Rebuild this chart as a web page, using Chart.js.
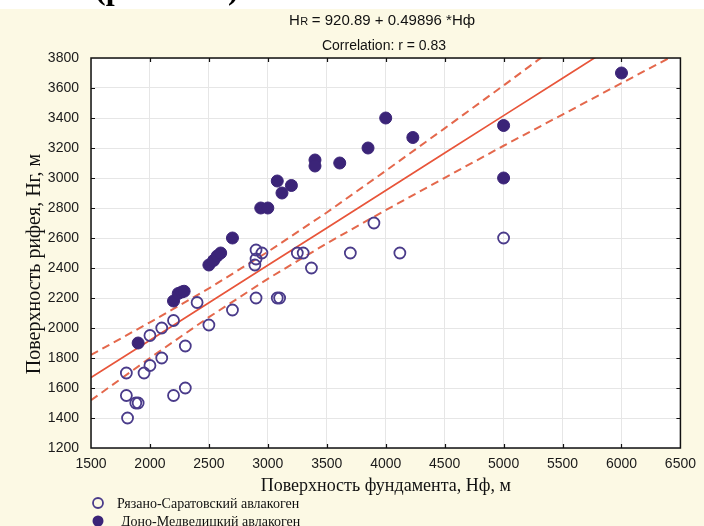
<!DOCTYPE html>
<html>
<head>
<meta charset="utf-8">
<script src="https://cdn.jsdelivr.net/npm/chart.js@4/dist/chart.umd.min.js"></script>
<style>
  html, body { margin: 0; padding: 0; background: #ffffff; }
  #wrap { width: 704px; height: 526px; }
</style>
</head>
<body>
<div id="wrap"><canvas id="c" width="704" height="526"></canvas></div>
<script>
// Рязано-Саратовский авлакоген (open markers)
const rsX = [1800, 1800, 1810, 1880, 1900, 1950, 2000, 2100, 2000, 2100, 2200, 2300, 2200, 2300, 2400, 2500,
             2700, 2900, 3080, 3100, 2900, 2950, 2900, 2890, 3250, 3300, 3370, 3700, 3900, 4120, 5000];
const rsY = [1700, 1550, 1400, 1500, 1500, 1700, 1750, 1800, 1950, 2000, 2050, 1880, 1550, 1600, 2170, 2020,
             2120, 2200, 2200, 2200, 2520, 2500, 2460, 2420, 2500, 2500, 2400, 2500, 2700, 2500, 2600];

// Доно-Медведицкий авлакоген (filled markers)
const dmX = [1900, 2200, 2240, 2270, 2290, 2500, 2540, 2570, 2600, 2700, 2940, 3000, 3080, 3120, 3200,
             3400, 3400, 3610, 3850, 4000, 4230, 5000, 5000, 6000];
const dmY = [1900, 2180, 2230, 2240, 2245, 2420, 2450, 2480, 2500, 2600, 2800, 2800, 2980, 2900, 2950,
             3120, 3080, 3100, 3200, 3400, 3270, 3350, 3000, 3700];

// Regression coefficients (as printed in the heading)
const INTERCEPT = 920.89;
const SLOPE = 0.49896;
const CORR_R = 0.83;

// Confidence band of the regression line
const bandX     = [1500, 2000, 2500, 3000, 3500, 4000, 4500, 5000, 5500, 6000, 6500];
const bandUpper = [1820, 2038, 2264, 2508, 2770, 3048, 3331, 3617, 3907, 4198, 4488];
const bandLower = [1518, 1800, 2072, 2328, 2564, 2786, 3001, 3215, 3423, 3632, 3840];

// Axis ticks
const xTicks = [1500, 2000, 2500, 3000, 3500, 4000, 4500, 5000, 5500, 6000, 6500];
const yTicks = [1200, 1400, 1600, 1800, 2000, 2200, 2400, 2600, 2800, 3000, 3200, 3400, 3600, 3800];

const seriesNames = ['Рязано-Саратовский авлакоген', 'Доно-Медведицкий авлакоген'];
const xTitle = 'Поверхность фундамента, Нф, м';
const yTitle = 'Поверхность рифея, Нг, м';

const pts = (xs, ys) => xs.map((x, i) => ({ x: x, y: ys[i] }));
const fitLine = xTicks.map(x => ({ x: x, y: INTERCEPT + SLOPE * x }));

const CREAM = '#fcf9e4';
const PURPLE = '#3b2478';
const OPEN_PURPLE = '#4a3b8a';
const RED = '#e8553a';
const RED_DASH = '#e4684c';

const SANS = '"Liberation Sans", Arial, sans-serif';
const SERIF = '"Liberation Serif", "Times New Roman", serif';

const framePlugin = {
  id: 'frame',
  beforeDraw(chart) {
    const ctx = chart.ctx, a = chart.chartArea;
    ctx.save();
    ctx.fillStyle = '#ffffff';
    ctx.fillRect(0, 0, chart.width, chart.height);
    // page caption running off the top edge
    ctx.fillStyle = '#000';
    ctx.font = 'bold 32px ' + SERIF;
    ctx.textAlign = 'left';
    ctx.textBaseline = 'alphabetic';
    ctx.fillText('(рис. 5.14)', 95, -1);
    ctx.fillStyle = CREAM;
    ctx.fillRect(0, 9, chart.width, chart.height - 9);
    ctx.fillStyle = '#ffffff';
    ctx.fillRect(a.left, a.top, a.right - a.left, a.bottom - a.top);
    ctx.restore();
  },
  afterDraw(chart) {
    const ctx = chart.ctx, a = chart.chartArea;
    const xs = chart.scales.x, ys = chart.scales.y;
    ctx.save();
    // frame
    ctx.strokeStyle = '#111';
    ctx.lineWidth = 1.5;
    ctx.strokeRect(a.left, a.top, a.right - a.left, a.bottom - a.top);
    // inward tick marks on all four sides
    ctx.lineWidth = 1.2;
    ctx.beginPath();
    xTicks.slice(1, -1).forEach(v => {
      const px = Math.round(xs.getPixelForValue(v)) + 0.5;
      ctx.moveTo(px, a.bottom); ctx.lineTo(px, a.bottom - 4);
      ctx.moveTo(px, a.top); ctx.lineTo(px, a.top + 4);
    });
    yTicks.slice(1, -1).forEach(v => {
      const py = Math.round(ys.getPixelForValue(v)) + 0.5;
      ctx.moveTo(a.left, py); ctx.lineTo(a.left + 4, py);
      ctx.moveTo(a.right, py); ctx.lineTo(a.right - 4, py);
    });
    ctx.stroke();

    // headings
    ctx.fillStyle = '#111';
    ctx.textBaseline = 'alphabetic';
    const cx = 382;
    const p1 = 'H', p2 = 'R', p3 = ' = ' + INTERCEPT.toFixed(2) + ' + ' + SLOPE.toFixed(5) + ' *Hф';
    ctx.font = '15px ' + SANS; const w1 = ctx.measureText(p1).width, w3 = ctx.measureText(p3).width;
    ctx.font = '11px ' + SANS; const w2 = ctx.measureText(p2).width;
    let x0 = cx - (w1 + w2 + w3) / 2;
    ctx.textAlign = 'left';
    ctx.font = '15px ' + SANS; ctx.fillText(p1, x0, 25);
    ctx.font = '11px ' + SANS; ctx.fillText(p2, x0 + w1 + 0.5, 25);
    ctx.font = '15px ' + SANS; ctx.fillText(p3, x0 + w1 + w2, 25);
    ctx.textAlign = 'center';
    ctx.font = '14px ' + SANS;
    ctx.fillText('Correlation: r = ' + CORR_R.toFixed(2), cx + 2, 50);

    // axis titles
    ctx.font = '18px ' + SERIF;
    ctx.fillText(xTitle, (a.left + a.right) / 2, 491);
    ctx.save();
    ctx.translate(35, 264);
    ctx.rotate(-Math.PI / 2);
    ctx.textBaseline = 'middle';
    ctx.font = '20px ' + SERIF;
    ctx.fillText(yTitle, 0, 0);
    ctx.restore();

    // legend
    ctx.font = '14px ' + SERIF;
    ctx.textAlign = 'left';
    ctx.textBaseline = 'middle';
    ctx.lineWidth = 1.8;
    ctx.strokeStyle = OPEN_PURPLE;
    ctx.beginPath(); ctx.arc(98, 503, 5, 0, Math.PI * 2); ctx.stroke();
    ctx.fillStyle = '#111';
    ctx.fillText(seriesNames[0], 117, 504);
    ctx.fillStyle = PURPLE;
    ctx.beginPath(); ctx.arc(98, 521, 5.5, 0, Math.PI * 2); ctx.fill();
    ctx.fillStyle = '#111';
    ctx.fillText(seriesNames[1], 121, 522);
    ctx.restore();
  }
};

const plainNumber = v => String(v);

new Chart(document.getElementById('c'), {
  type: 'scatter',
  data: {
    datasets: [
      {
        label: seriesNames[0],
        data: pts(rsX, rsY),
        pointStyle: 'circle',
        pointRadius: 5.5,
        backgroundColor: 'rgba(255,255,255,0)',
        borderColor: OPEN_PURPLE,
        borderWidth: 1.8,
        order: 1
      },
      {
        label: seriesNames[1],
        data: pts(dmX, dmY),
        pointStyle: 'circle',
        pointRadius: 6,
        backgroundColor: PURPLE,
        borderColor: PURPLE,
        borderWidth: 1,
        order: 0
      },
      {
        label: 'fit',
        data: fitLine,
        showLine: true,
        pointRadius: 0,
        borderColor: RED,
        borderWidth: 1.7,
        order: 2
      },
      {
        label: 'upper',
        data: pts(bandX, bandUpper),
        showLine: true,
        pointRadius: 0,
        borderColor: RED_DASH,
        borderWidth: 2,
        borderDash: [8, 5],
        order: 3
      },
      {
        label: 'lower',
        data: pts(bandX, bandLower),
        showLine: true,
        pointRadius: 0,
        borderColor: RED_DASH,
        borderWidth: 2,
        borderDash: [8, 5],
        order: 3
      }
    ]
  },
  options: {
    responsive: false,
    animation: false,
    devicePixelRatio: 1,
    layout: { padding: { left: 0, right: 16, top: 58, bottom: 0 } },
    plugins: { legend: { display: false }, tooltip: { enabled: false }, title: { display: false } },
    scales: {
      x: {
        type: 'linear',
        min: 1500, max: 6500,
        afterBuildTicks(scale) { scale.ticks = xTicks.map(v => ({ value: v })); },
        afterFit(scale) { scale.height = 78; },
        grid: { color: '#e6e6e6', lineWidth: 1, drawTicks: false },
        border: { display: false },
        ticks: { padding: 8, color: '#1a1a1a', font: { family: SANS, size: 14 }, maxRotation: 0, autoSkip: false, callback: plainNumber }
      },
      y: {
        type: 'linear',
        min: 1200, max: 3800,
        afterBuildTicks(scale) { scale.ticks = yTicks.map(v => ({ value: v })); },
        afterFit(scale) { scale.width = 91; },
        grid: { color: '#e6e6e6', lineWidth: 1, drawTicks: false },
        border: { display: false },
        ticks: { padding: 12, color: '#1a1a1a', font: { family: SANS, size: 14 }, autoSkip: false, callback: plainNumber }
      }
    }
  },
  plugins: [framePlugin]
});
</script>
</body>
</html>
